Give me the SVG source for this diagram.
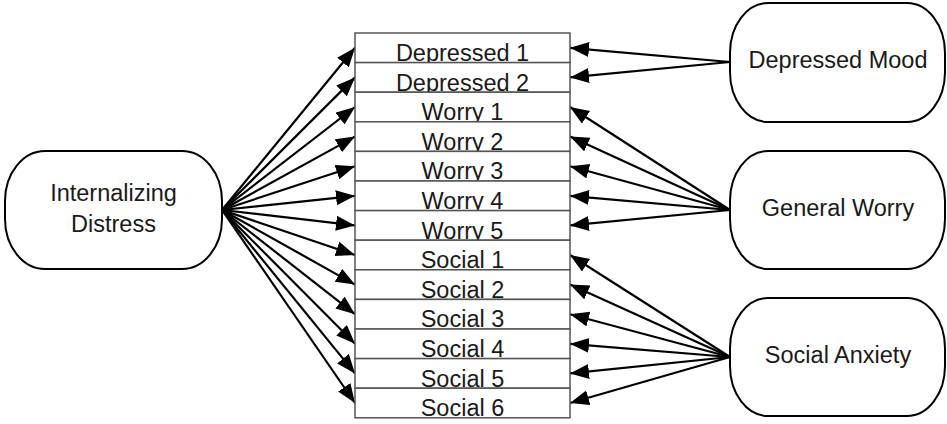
<svg xmlns="http://www.w3.org/2000/svg" width="947" height="424" viewBox="0 0 947 424">
  <defs>
    <marker id="arrow" markerUnits="userSpaceOnUse" markerWidth="22" markerHeight="18" refX="19" refY="7.5" orient="auto">
      <path d="M0,0 L19,7.5 L0,15 z" fill="#000"/>
    </marker>
    <style>
      .node { fill: #fff; stroke: #000; stroke-width: 2; }
      .row { fill: #fff; stroke: #555; stroke-width: 1.5; }
      .label { font-family: "Liberation Sans", Arial, sans-serif; font-size: 23.5px; fill: #1a1a1a; text-anchor: middle; }
      .edge { stroke: #000; stroke-width: 2.2; fill: none; marker-end: url(#arrow); }
    </style>
  </defs>
  <rect width="947" height="424" fill="#fff"/>

  <!-- connectors: latent factors to indicator rows -->
  <g id="connectors">
    <!-- Internalizing Distress to all indicators -->
    <line class="edge" x1="222" y1="210" x2="355" y2="47.8"/>
    <line class="edge" x1="222" y1="210" x2="355" y2="77.4"/>
    <line class="edge" x1="222" y1="210" x2="355" y2="107"/>
    <line class="edge" x1="222" y1="210" x2="355" y2="136.6"/>
    <line class="edge" x1="222" y1="210" x2="355" y2="166.2"/>
    <line class="edge" x1="222" y1="210" x2="355" y2="195.8"/>
    <line class="edge" x1="222" y1="210" x2="355" y2="225.4"/>
    <line class="edge" x1="222" y1="210" x2="355" y2="255"/>
    <line class="edge" x1="222" y1="210" x2="355" y2="284.6"/>
    <line class="edge" x1="222" y1="210" x2="355" y2="314.2"/>
    <line class="edge" x1="222" y1="210" x2="355" y2="343.8"/>
    <line class="edge" x1="222" y1="210" x2="355" y2="373.4"/>
    <line class="edge" x1="222" y1="210" x2="355" y2="403"/>
    <!-- Depressed Mood -->
    <line class="edge" x1="730" y1="62" x2="570" y2="47.8"/>
    <line class="edge" x1="730" y1="62" x2="570" y2="77.4"/>
    <!-- General Worry -->
    <line class="edge" x1="730" y1="210" x2="570" y2="107"/>
    <line class="edge" x1="730" y1="210" x2="570" y2="136.6"/>
    <line class="edge" x1="730" y1="210" x2="570" y2="166.2"/>
    <line class="edge" x1="730" y1="210" x2="570" y2="195.8"/>
    <line class="edge" x1="730" y1="210" x2="570" y2="225.4"/>
    <!-- Social Anxiety -->
    <line class="edge" x1="730" y1="357" x2="570" y2="255"/>
    <line class="edge" x1="730" y1="357" x2="570" y2="284.6"/>
    <line class="edge" x1="730" y1="357" x2="570" y2="314.2"/>
    <line class="edge" x1="730" y1="357" x2="570" y2="343.8"/>
    <line class="edge" x1="730" y1="357" x2="570" y2="373.4"/>
    <line class="edge" x1="730" y1="357" x2="570" y2="403"/>
  </g>

  <!-- indicator table: each row drawn after the previous one, so it overlaps its descenders -->
  <g id="indicators">
    <g id="depressed1"><rect class="row" x="355" y="33" width="215" height="29.6"/><text class="label" x="462.5" y="61">Depressed 1</text></g>
    <g id="depressed2"><rect class="row" x="355" y="62.6" width="215" height="29.6"/><text class="label" x="462.5" y="90.6">Depressed 2</text></g>
    <g id="worry1"><rect class="row" x="355" y="92.2" width="215" height="29.6"/><text class="label" x="462.5" y="120.2">Worry 1</text></g>
    <g id="worry2"><rect class="row" x="355" y="121.8" width="215" height="29.6"/><text class="label" x="462.5" y="149.8">Worry 2</text></g>
    <g id="worry3"><rect class="row" x="355" y="151.4" width="215" height="29.6"/><text class="label" x="462.5" y="179.4">Worry 3</text></g>
    <g id="worry4"><rect class="row" x="355" y="181" width="215" height="29.6"/><text class="label" x="462.5" y="209">Worry 4</text></g>
    <g id="worry5"><rect class="row" x="355" y="210.6" width="215" height="29.6"/><text class="label" x="462.5" y="238.6">Worry 5</text></g>
    <g id="social1"><rect class="row" x="355" y="240.2" width="215" height="29.6"/><text class="label" x="462.5" y="268.2">Social 1</text></g>
    <g id="social2"><rect class="row" x="355" y="269.8" width="215" height="29.6"/><text class="label" x="462.5" y="297.8">Social 2</text></g>
    <g id="social3"><rect class="row" x="355" y="299.4" width="215" height="29.6"/><text class="label" x="462.5" y="327.4">Social 3</text></g>
    <g id="social4"><rect class="row" x="355" y="329" width="215" height="29.6"/><text class="label" x="462.5" y="357">Social 4</text></g>
    <g id="social5"><rect class="row" x="355" y="358.6" width="215" height="29.6"/><text class="label" x="462.5" y="386.6">Social 5</text></g>
    <g id="social6"><rect class="row" x="355" y="388.2" width="215" height="29.6"/><text class="label" x="462.5" y="416.2">Social 6</text></g>
  </g>

  <!-- latent factors -->
  <g id="internalizing">
    <rect class="node" x="5" y="151" width="217" height="118" rx="40" ry="50"/>
    <text class="label" x="113.5" y="201">Internalizing</text>
    <text class="label" x="113.5" y="231.5">Distress</text>
  </g>
  <g id="depressed-mood">
    <rect class="node" x="730" y="3" width="215" height="119" rx="38" ry="50"/>
    <text class="label" x="838" y="68">Depressed Mood</text>
  </g>
  <g id="general-worry">
    <rect class="node" x="730" y="151" width="215" height="118" rx="38" ry="50"/>
    <text class="label" x="838" y="216">General Worry</text>
  </g>
  <g id="social-anxiety">
    <rect class="node" x="730" y="298" width="215" height="118" rx="38" ry="50"/>
    <text class="label" x="838" y="363">Social Anxiety</text>
  </g>
</svg>
